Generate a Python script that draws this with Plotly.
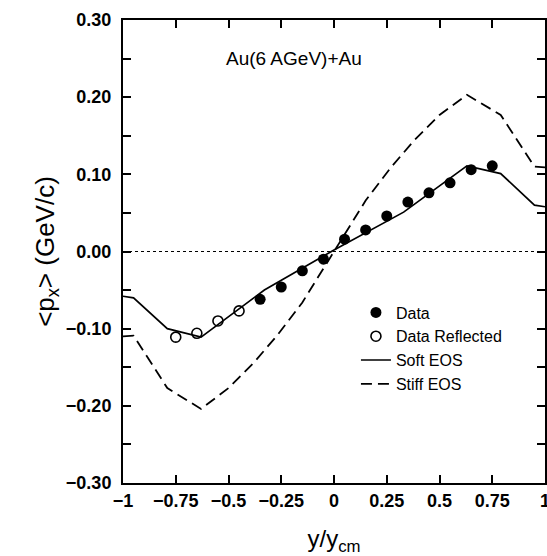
import plotly.graph_objects as go

# measured <px> vs normalised rapidity
data_x = [-0.35, -0.25, -0.15, -0.05, 0.05, 0.15, 0.25, 0.35, 0.45, 0.55, 0.65, 0.75]
data_y = [-0.062, -0.046, -0.025, -0.010, 0.016, 0.028, 0.046, 0.064, 0.076, 0.089, 0.106, 0.111]

refl_x = [-0.75, -0.65, -0.55, -0.45]
refl_y = [-0.111, -0.106, -0.090, -0.077]

soft_x = [-1.0, -0.95, -0.79, -0.63, -0.33, 0.0, 0.33, 0.63, 0.79, 0.95, 1.0]
soft_y = [-0.058, -0.060, -0.100, -0.111, -0.050, 0.002, 0.051, 0.111, 0.101, 0.060, 0.058]

stiff_x = [-1.0, -0.95, -0.79, -0.63, -0.50, -0.38, -0.27, -0.15, 0.0,
           0.15, 0.27, 0.38, 0.50, 0.63, 0.79, 0.95, 1.0]
stiff_y = [-0.110, -0.109, -0.177, -0.204, -0.177, -0.144, -0.109, -0.066, 0.0,
           0.066, 0.109, 0.144, 0.177, 0.203, 0.177, 0.110, 0.109]

x_ticks = [-1, -0.75, -0.5, -0.25, 0, 0.25, 0.5, 0.75, 1]
x_labels = ["\u22121", "\u22120.75", "\u22120.5", "\u22120.25", "0", "0.25", "0.5", "0.75", "1"]
y_ticks = [-0.30, -0.25, -0.20, -0.15, -0.10, -0.05, 0.00, 0.05, 0.10, 0.15, 0.20, 0.25, 0.30]
y_labels = ["\u22120.30", "", "\u22120.20", "", "\u22120.10", "", "0.00", "", "0.10", "", "0.20", "", "0.30"]

FONT = "Liberation Sans, Arial, sans-serif"

fig = go.Figure()

fig.add_hline(y=0, line=dict(color="black", width=1, dash="dot"))

fig.add_trace(go.Scatter(
    x=data_x, y=data_y, mode="markers", name="Data",
    marker=dict(symbol="circle", size=11, color="black")
))
fig.add_trace(go.Scatter(
    x=refl_x, y=refl_y, mode="markers", name="Data Reflected",
    marker=dict(symbol="circle-open", size=10, color="black", line=dict(width=1.6))
))
fig.add_trace(go.Scatter(
    x=soft_x, y=soft_y, mode="lines", name="Soft EOS",
    line=dict(color="black", width=1.7)
))
fig.add_trace(go.Scatter(
    x=stiff_x, y=stiff_y, mode="lines", name="Stiff EOS",
    line=dict(color="black", width=1.8, dash="11px,6px")
))

fig.add_annotation(
    x=-0.52, y=0.25, xref="x", yref="y", text="Au(6 AGeV)+Au",
    showarrow=False, xanchor="left", yanchor="middle",
    font=dict(family=FONT, size=19, color="black")
)

axis_common = dict(
    showgrid=False, zeroline=False, showline=True, linecolor="black", linewidth=2,
    mirror="ticks", ticks="inside", ticklen=8, tickwidth=1.5, tickcolor="black",
    tickfont=dict(family=FONT, size=18, color="black", weight="bold"),
    automargin=False, ticklabeloverflow="allow",
)

fig.update_xaxes(
    range=[-1, 1], tickvals=x_ticks, ticktext=x_labels,
    title=dict(text="y/y<sub>cm</sub>", font=dict(family=FONT, size=24, color="black"), standoff=21),
    **axis_common
)
fig.update_yaxes(
    range=[-0.30, 0.30], tickvals=y_ticks, ticktext=y_labels, ticklabelstandoff=6,
    title=dict(text="&lt;p<sub>x</sub>&gt; (GeV/c)", font=dict(family=FONT, size=26, color="black"), standoff=4),
    **axis_common
)

fig.update_layout(
    width=547, height=556,
    margin=dict(l=123, r=2, t=20, b=73),
    paper_bgcolor="white", plot_bgcolor="white",
    showlegend=True,
    legend=dict(
        x=0.552, y=0.405, xanchor="left", yanchor="top",
        bgcolor="rgba(0,0,0,0)", borderwidth=0,
        font=dict(family=FONT, size=16, color="black"),
        tracegroupgap=0,
    ),
)

# drop the browser's default body margin so the figure fills the window exactly
fig.write_html("out.html", config={"displayModeBar": False},
               post_script="document.body.style.margin = '0';")
